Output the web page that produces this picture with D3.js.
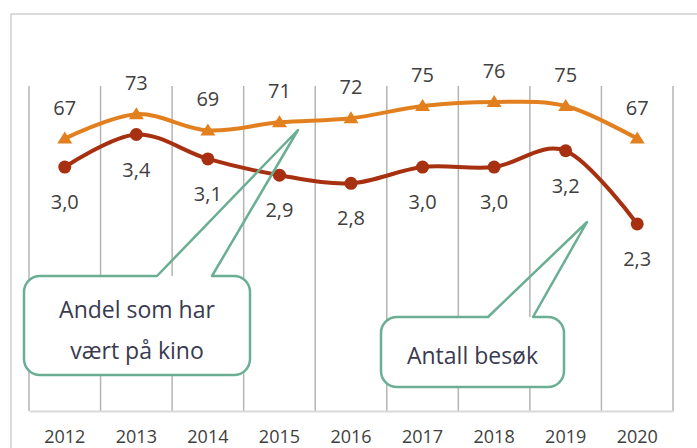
<!DOCTYPE html>
<html>
<head>
<meta charset="utf-8">
<script src="https://cdn.jsdelivr.net/npm/d3@7"></script>
<style>
  body { margin: 0; background: #fff; }
  svg { display: block; font-family: "Open Sans", sans-serif; }
</style>
</head>
<body>
<div id="chart"></div>
<script>
// values
var years = ["2012","2013","2014","2015","2016","2017","2018","2019","2020"];
var andel = [67, 73, 69, 71, 72, 75, 76, 75, 67];          // share who went to the cinema (%)
var besok = [3.0, 3.4, 3.1, 2.9, 2.8, 3.0, 3.0, 3.2, 2.3]; // visits
var callout1 = ["Andel som har", "vært på kino"];
var callout2 = ["Antall besøk"];

var W = 697, H = 448;
var orange = "#e2801f", red = "#a6300f", teal = "#6aae93", grey = "#404040";

var svg = d3.select("#chart").append("svg")
  .attr("width", W)
  .attr("height", H);

// chart frame (runs off the right / bottom of the picture)
svg.append("rect")
  .attr("x", 11).attr("y", 14)
  .attr("width", 720).attr("height", 460)
  .attr("fill", "none")
  .attr("stroke", "#d0d0d0")
  .attr("stroke-width", 1.5);

var x = d3.scaleBand().domain(years).range([29, 673]);
var yA = d3.scaleLinear().domain([0, 100]).range([411, 4.4]);
var yB = d3.scaleLinear().domain([0, 5]).range([411, 4.4]);
var bw = x.bandwidth();
var cx = function(d, i) { return x(years[i]) + bw / 2; };

// vertical grid lines between the categories
var edges = years.map(function(y) { return x(y); }).concat([x.range()[1]]);
svg.append("g").selectAll("line").data(edges).enter().append("line")
  .attr("x1", function(d) { return d; })
  .attr("x2", function(d) { return d; })
  .attr("y1", 86).attr("y2", 411)
  .attr("stroke", "#b4b4b4")
  .attr("stroke-width", 1.5);

// bottom axis
var axis = svg.append("g")
  .attr("transform", "translate(0,411)")
  .call(d3.axisBottom(x).tickSize(0).tickPadding(19));
axis.select(".domain").attr("stroke", "#d9d9d9").attr("stroke-width", 2);
axis.selectAll("text")
  .attr("font-family", "Open Sans, sans-serif")
  .attr("font-size", 18)
  .attr("fill", grey);

var curve = d3.curveCardinal.tension(0);

// share line (orange, triangles)
svg.append("path")
  .datum(andel)
  .attr("fill", "none")
  .attr("stroke", orange)
  .attr("stroke-width", 4)
  .attr("d", d3.line().x(cx).y(function(d) { return yA(d); }).curve(curve));

svg.append("g").selectAll("path").data(andel).enter().append("path")
  .attr("transform", function(d, i) { return "translate(" + cx(d, i) + "," + yA(d) + ")"; })
  .attr("d", "M0,-7L7.5,5L-7.5,5Z")
  .attr("fill", orange);

svg.append("g").selectAll("text").data(andel).enter().append("text")
  .attr("x", cx)
  .attr("y", function(d) { return yA(d) - 24; })
  .attr("text-anchor", "middle")
  .attr("font-size", 20)
  .attr("fill", grey)
  .text(function(d) { return d; });

// visits line (dark red, circles)
svg.append("path")
  .datum(besok)
  .attr("fill", "none")
  .attr("stroke", red)
  .attr("stroke-width", 4)
  .attr("d", d3.line().x(cx).y(function(d) { return yB(d); }).curve(curve));

svg.append("g").selectAll("circle").data(besok).enter().append("circle")
  .attr("cx", cx)
  .attr("cy", function(d) { return yB(d); })
  .attr("r", 6.5)
  .attr("fill", red);

var fmt = function(d) { return d3.format(".1f")(d).replace(".", ","); };
svg.append("g").selectAll("text").data(besok).enter().append("text")
  .attr("x", cx)
  .attr("y", function(d) { return yB(d) + 42; })
  .attr("text-anchor", "middle")
  .attr("font-size", 20)
  .attr("fill", grey)
  .text(fmt);

// callouts: rounded box with a wedge pointing at the line
function callout(x0, y0, w, h, r, b1, b2, tip, lines, lineGap, textY) {
  var g = svg.append("g");
  g.append("rect")
    .attr("x", x0).attr("y", y0)
    .attr("width", w).attr("height", h)
    .attr("rx", r)
    .attr("fill", "#fff");
  var p = d3.path();
  p.moveTo(b2, y0);
  p.lineTo(x0 + w - r, y0);
  p.arcTo(x0 + w, y0, x0 + w, y0 + r, r);
  p.lineTo(x0 + w, y0 + h - r);
  p.arcTo(x0 + w, y0 + h, x0 + w - r, y0 + h, r);
  p.lineTo(x0 + r, y0 + h);
  p.arcTo(x0, y0 + h, x0, y0 + h - r, r);
  p.lineTo(x0, y0 + r);
  p.arcTo(x0, y0, x0 + r, y0, r);
  p.lineTo(b1, y0);
  p.lineTo(tip[0], tip[1]);
  p.closePath();
  g.append("path")
    .attr("d", p.toString())
    .attr("fill", "none")
    .attr("stroke", teal)
    .attr("stroke-width", 2.5)
    .attr("stroke-linejoin", "round");
  g.selectAll("text").data(lines).enter().append("text")
    .attr("x", x0 + w / 2)
    .attr("y", function(d, i) { return textY + i * lineGap; })
    .attr("text-anchor", "middle")
    .attr("font-size", 23)
    .attr("fill", "#3a3a50")
    .text(function(d) { return d; });
}

callout(24, 276, 226, 99, 16, 157, 212, [298, 130], callout1, 41, 318);
callout(381, 317, 183, 70, 16, 488, 533, [587, 222], callout2, 0, 364);
</script>
</body>
</html>
